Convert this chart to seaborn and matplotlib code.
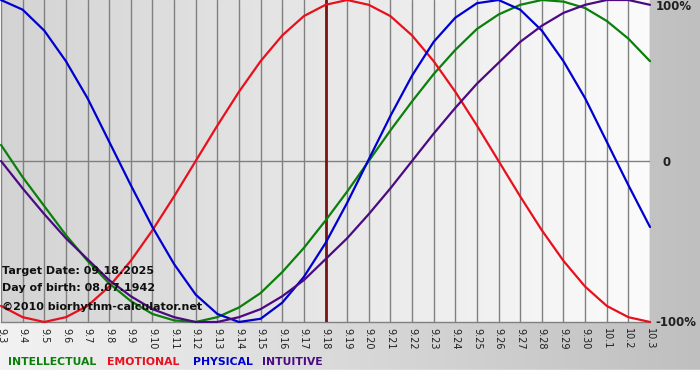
import numpy as np
import pandas as pd
import matplotlib
matplotlib.use("Agg")
import matplotlib.pyplot as plt
import seaborn as sns

# Day labels along the x axis
dates = ["9.3", "9.4", "9.5", "9.6", "9.7", "9.8", "9.9", "9.10", "9.11", "9.12",
         "9.13", "9.14", "9.15", "9.16", "9.17", "9.18", "9.19", "9.20", "9.21", "9.22",
         "9.23", "9.24", "9.25", "9.26", "9.27", "9.28", "9.29", "9.30", "10.1", "10.2", "10.3"]
target = "9.18"

# Values (-1 = -100%, 1 = 100%)
intellectual = [0.10, -0.10, -0.28, -0.46, -0.62, -0.76, -0.87, -0.95, -0.99, -1.00,
                -0.97, -0.91, -0.82, -0.69, -0.54, -0.37, -0.19, 0.00, 0.19, 0.37,
                0.54, 0.69, 0.82, 0.91, 0.97, 1.00, 0.99, 0.95, 0.87, 0.76, 0.62]
emotional = [-0.90, -0.97, -1.00, -0.97, -0.90, -0.78, -0.62, -0.43, -0.22, 0.00,
             0.22, 0.43, 0.62, 0.78, 0.90, 0.97, 1.00, 0.97, 0.90, 0.78,
             0.62, 0.43, 0.22, 0.00, -0.22, -0.43, -0.62, -0.78, -0.90, -0.97, -1.00]
physical = [1.00, 0.94, 0.81, 0.62, 0.39, 0.12, -0.15, -0.41, -0.64, -0.83,
            -0.95, -1.00, -0.98, -0.88, -0.72, -0.51, -0.26, 0.01, 0.28, 0.53,
            0.74, 0.89, 0.98, 1.00, 0.94, 0.81, 0.62, 0.39, 0.12, -0.15, -0.41]
intuitive = [0.00, -0.17, -0.33, -0.48, -0.61, -0.74, -0.84, -0.92, -0.97, -1.00,
             -1.00, -0.97, -0.92, -0.84, -0.74, -0.61, -0.48, -0.33, -0.17, 0.00,
             0.17, 0.33, 0.48, 0.61, 0.74, 0.84, 0.92, 0.97, 1.00, 1.00, 0.97]

names = ["INTELLECTUAL", "EMOTIONAL", "PHYSICAL", "INTUITIVE"]
colors = ["#0a800a", "#e8101c", "#0000d0", "#4b0a82"]

df = pd.DataFrame({"day": range(len(dates)),
                   "INTELLECTUAL": intellectual, "EMOTIONAL": emotional,
                   "PHYSICAL": physical, "INTUITIVE": intuitive})
long = df.melt(id_vars="day", var_name="cycle", value_name="value")

sns.set_style("white")
plt.rcParams["font.family"] = ["DejaVu Sans"]

W, H = 700, 380
fig = plt.figure(figsize=(W / 100, H / 100), dpi=100)

# figure background: light-to-gray gradient, white strip at bottom
bg = fig.add_axes([0, 0, 1, 1], zorder=-10)
grad = np.linspace(0.95, 0.75, 256)[None, :]
bg.imshow(np.dstack([grad] * 3), aspect="auto", extent=[0, 1, 10 / H, 1])
bg.axhspan(0, 10 / H, color="white")
bg.set_xlim(0, 1)
bg.set_ylim(0, 1)
bg.axis("off")

ax = fig.add_axes([1 / W, 1 - 322 / H, 649 / W, 322 / H])
pgrad = np.linspace(0.83, 0.985, 256)[None, :]
ax.imshow(np.dstack([pgrad] * 3), aspect="auto", extent=[0, len(dates) - 1, -1, 1], zorder=0)

sns.lineplot(data=long, x="day", y="value", hue="cycle", hue_order=names,
             palette=colors, linewidth=1.6, legend=False, ax=ax, zorder=3,
             clip_on=False)

ax.axvline(dates.index(target), color="#7a1414", lw=2, zorder=2.8)
ax.axhline(0, color="#808080", lw=1, zorder=1)

ax.set_xlim(0, len(dates) - 1)
ax.set_ylim(-1, 1)
ax.set_xticks(range(len(dates)))
ax.set_xticklabels(dates, rotation=270, fontsize=7, color="#202020")
ax.grid(axis="x", color="#808080", lw=1, zorder=1)
ax.set_axisbelow(False)
ax.tick_params(axis="x", length=0, pad=4)
ax.yaxis.tick_right()
ax.set_yticks([-1, 0, 1])
ax.set_yticklabels(["-100%", "0", "100%"], fontsize=8.5, fontweight="bold", color="#202020")
ax.tick_params(axis="y", length=0, pad=4)
ax.get_yticklabels()[2].set_va("top")
ax.get_yticklabels()[0].set_va("center")
ax.yaxis.get_major_ticks()[1].set_pad(9)
ax.set_xlabel("")
ax.set_ylabel("")
for s in ["top", "right", "left"]:
    ax.spines[s].set_visible(False)
ax.spines["bottom"].set_color("#808080")
ax.spines["bottom"].set_linewidth(1)

# info text inside plot
info = ["Target Date: 09.18.2025", "Day of birth: 08.07.1942", "\u00a92010 biorhythm-calculator.net"]
for txt, yp in zip(info, [271, 288, 307]):
    fig.text(2 / W, 1 - yp / H, txt, fontsize=8, fontweight="bold", color="#101010", va="center")

# legend text along the bottom
for name, col, xp in zip(names, colors, [8, 107, 193, 262]):
    fig.text(xp / W, 1 - 362 / H, name, fontsize=7.8, fontweight="bold", color=col, va="center")

fig.savefig("out.png", dpi=100)
